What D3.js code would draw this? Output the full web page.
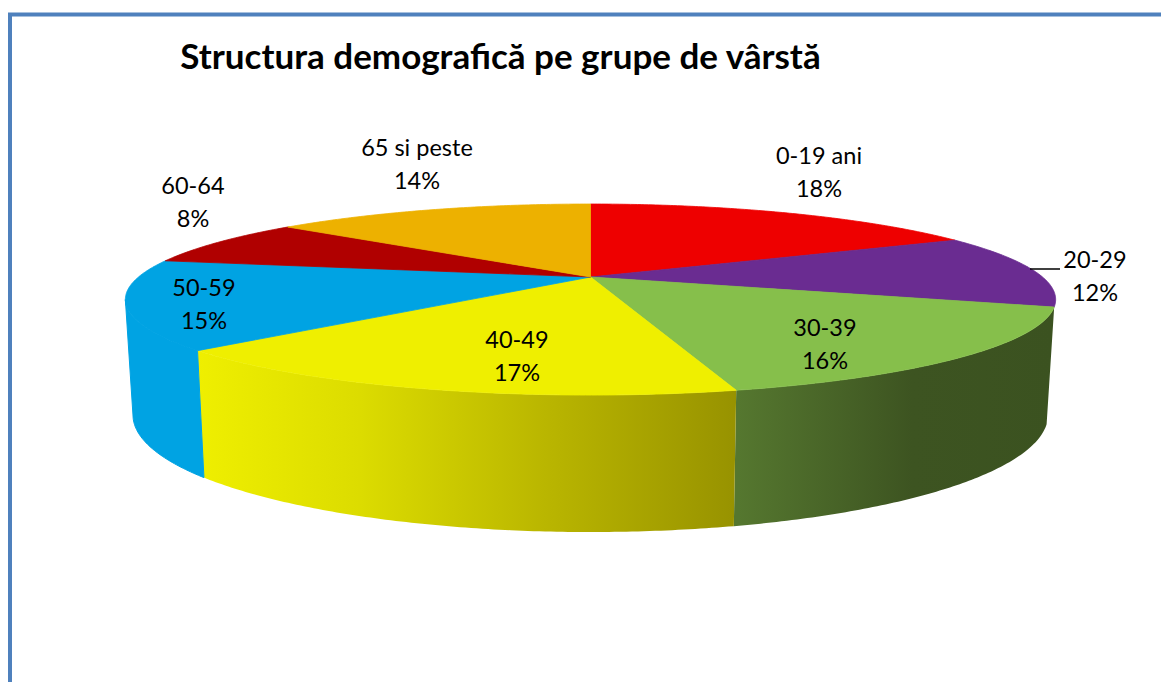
<!DOCTYPE html>
<html>
<head>
<meta charset="utf-8">
<script src="https://cdn.jsdelivr.net/npm/d3@7"></script>
<style>
  html, body { margin: 0; padding: 0; background: #fff; }
  svg { display: block; }
  text { font-family: Lato, "Open Sans", sans-serif; fill: #000; text-anchor: middle; }
</style>
</head>
<body>
<svg id="chart" width="1161" height="682"></svg>
<script>
  const title = "Structura demografică pe grupe de vârstă"
  const categories = ["0-19 ani", "20-29", "30-39", "40-49", "50-59", "60-64", "65 si peste"]
  const shares = [0.1755, 0.1245, 0.16, 0.17, 0.15, 0.08, 0.14]

  const colors = ["#ee0000", "#6a2c91", "#86bf4b", "#efef00", "#00a3e3", "#b00000", "#edb100"]
  // label anchors, one per category (x, y of the name line)
  const labelPos = [[819, 164], [1095, 268], [825, 336], [517, 348], [204, 296], [193, 194], [417, 156]]

  const svg = d3.select("#chart")
  const defs = svg.append("defs")

  // perspective of the disc: k is the foreshortening, top and bottom have their own apex
  const k = 0.236
  const topDisc = { cx: 590.5, cy: 277, a: 452, b: 90.2 }
  const botDisc = { cx: 590.5, cy: 387.4, a: 444.6, b: 110.5 }

  const project = (disc, angle) => {
    const u = Math.sin(angle), v = Math.cos(angle), d = 1 + k * v
    return [disc.cx + disc.a * u / d, disc.cy - disc.b * v / d]
  }

  const sampleArc = (disc, a0, a1) => {
    const n = Math.max(2, Math.ceil((a1 - a0) / 0.01))
    return d3.range(n + 1).map(i => project(disc, a0 + (a1 - a0) * i / n))
  }

  const line = d3.line()
  const pie = d3.pie().sort(null).startAngle(0).endAngle(2 * Math.PI)
  const arcs = pie(shares)

  // angle where the outline of the disc turns, the side wall stops there
  const leftEdge = 2 * Math.PI - Math.acos(-k)

  const wallFill = (id, stops, x0, x1) => {
    const g = defs.append("linearGradient").attr("id", id)
      .attr("gradientUnits", "userSpaceOnUse")
      .attr("x1", x0).attr("x2", x1).attr("y1", 0).attr("y2", 0)
    stops.forEach(s => g.append("stop").attr("offset", s[0]).attr("stop-color", s[1]))
    return `url(#${id})`
  }

  const wallFills = {
    2: wallFill("wallGreen", [[0, "#55772f"], [0.55, "#3d5421"], [1, "#3b5220"]], 738, 1055),
    3: wallFill("wallYellow", [[0, "#efef00"], [0.3, "#dcdc00"], [0.65, "#b9b500"], [1, "#979200"]], 198, 738),
    4: colors[4]
  }

  // side walls first, only the slices turned to the viewer have one
  const walls = svg.append("g")
  arcs.forEach((d, i) => {
    if (!wallFills[i]) return
    const end = Math.min(d.endAngle, leftEdge)
    const pts = sampleArc(topDisc, d.startAngle, end)
      .concat(sampleArc(botDisc, d.startAngle, end).reverse())
    walls.append("path").attr("d", line(pts) + "Z").attr("fill", wallFills[i])
      .attr("stroke", i == 4 ? colors[4] : "none").attr("stroke-width", 1)
  })

  // top face
  svg.append("g").selectAll("path").data(arcs).join("path")
    .attr("d", d => line([[topDisc.cx, topDisc.cy]].concat(sampleArc(topDisc, d.startAngle, d.endAngle))) + "Z")
    .attr("fill", (d, i) => colors[i])
    .attr("stroke", (d, i) => colors[i])
    .attr("stroke-width", 0.8)

  // frame of the picture
  svg.append("path").attr("d", "M10,682V14.5H1161")
    .attr("fill", "none").attr("stroke", "#4f81bd").attr("stroke-width", 4)

  svg.append("text").attr("x", 500.5).attr("y", 69)
    .attr("font-size", 35).attr("font-weight", 700)
    .text(title)

  // leader of the 20-29 label
  svg.append("line").attr("x1", 1030).attr("x2", 1060).attr("y1", 269).attr("y2", 269)
    .attr("stroke", "#000").attr("stroke-width", 1.5)

  const labels = svg.append("g").selectAll("text").data(arcs).join("text")
    .attr("font-size", 23.5)
  labels.append("tspan")
    .attr("x", (d, i) => labelPos[i][0]).attr("y", (d, i) => labelPos[i][1])
    .text((d, i) => categories[i])
  labels.append("tspan")
    .attr("x", (d, i) => labelPos[i][0]).attr("y", (d, i) => labelPos[i][1] + 33)
    .text(d => d3.format(".0%")(d.data))
</script>
</body>
</html>
